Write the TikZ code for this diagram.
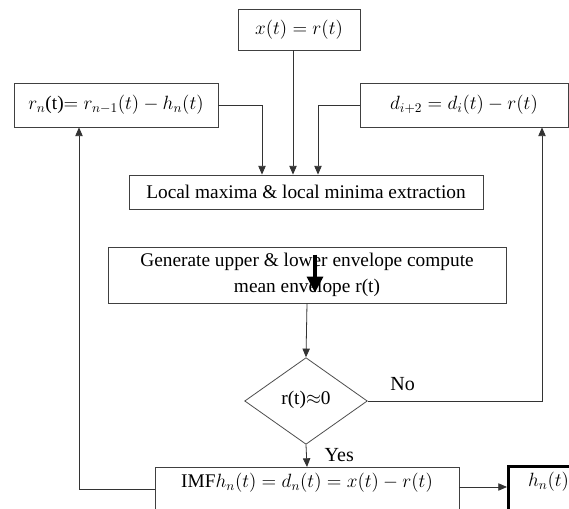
\documentclass[tikz,border=0pt]{standalone}
\usepackage{fontspec}
\setmainfont{Liberation Serif}
\usetikzlibrary{arrows.meta, shapes.geometric, positioning, calc}

\begin{document}
\begin{tikzpicture}[x=0.75pt, y=-0.75pt,
  box/.style={draw=black!75, line width=0.6pt, inner sep=0pt,
    font=\fontsize{14.5}{20}\selectfont, align=center},
  openbox/.style={box, anchor=north, text height=15pt, text depth=40pt},
  diam/.style={diamond, draw=black!70, line width=0.6pt, aspect=1.4,
    inner sep=0pt, minimum width=92pt, minimum height=65pt,
    font=\fontsize{14.5}{17}\selectfont},
  arr/.style={draw=black!80, line width=0.6pt, -{Triangle[length=6.5pt, width=5.5pt]}},
  lbl/.style={font=\fontsize{15}{17}\selectfont}
]
  \useasboundingbox (0,0) rectangle (569,509);
  \clip (0,0) rectangle (569,509);

  \node[box, minimum width=91.5pt, minimum height=30.75pt] (xr) at (299,29.5) {$x(t) = r(t)$};
  \node[box, minimum width=153pt, minimum height=33pt] (rn) at (116,105)
    {$r_n$(t)$= r_{n-1}(t) - h_n(t)$};
  \node[box, minimum width=156pt, minimum height=33pt] (di) at (464,105)
    {$d_{i+2} = d_i(t) - r(t)$};
  \node[box, minimum width=265.5pt, minimum height=25.5pt] (ext) at (306,192)
    {Local maxima \& local minima extraction};
  \node[box, minimum width=298.5pt, minimum height=42pt] (env) at (307,275)
    {Generate upper \& lower envelope compute\\mean envelope r(t)};
  \node[diam] (chk) at (306,401) {\raisebox{5pt}{r(t)$\approx$0}};
  \node[openbox, minimum width=228pt] (imf) at (307,467)
    {IMF$h_n(t) = d_n(t) = x(t) - r(t)$};
  \node[openbox, draw=black, line width=2.2pt, minimum width=60pt, anchor=north west,
    inner xsep=8pt] (hn) at (507,465) {$h_n(t)$};

  % into the extraction box
  \draw[arr] ([xshift=-4.5pt]xr.south) -- ([xshift=-4.5pt]xr.south |- ext.north);
  \draw[arr] (rn.east) -| ($(ext.north)+(-44,0)$);
  \draw[arr] (di.west) -| ($(ext.north)+(12,0)$);

  % stray arrow over the envelope text
  \draw[line width=2.4pt, -{Triangle[length=12pt, width=12pt]}]
    ($(env.north)+(8,8)$) -- ($(env.north)+(8,46)$);

  \draw[arr] (env.south) -- (chk.north);
  \draw[arr] (chk.east) -| ($(di.south)+(78,0)$);
  \draw[arr] (chk.south) -- (imf.north);
  \node[lbl, anchor=south west] (no) at ($(chk.east)+(18,-6)$) {No};
  \node[lbl, anchor=west] (yes) at ($(chk.south)+(14,10)$) {Yes};

  \coordinate (imfl) at ([yshift=-17pt]imf.north west);
  \draw[arr] (imfl) -| ($(rn.south)+(-37,0)$);
  \coordinate (imfr) at ([yshift=-15pt]imf.north east);
  \draw[arr] (imfr) -- (imfr -| hn.west);
\end{tikzpicture}
\end{document}
